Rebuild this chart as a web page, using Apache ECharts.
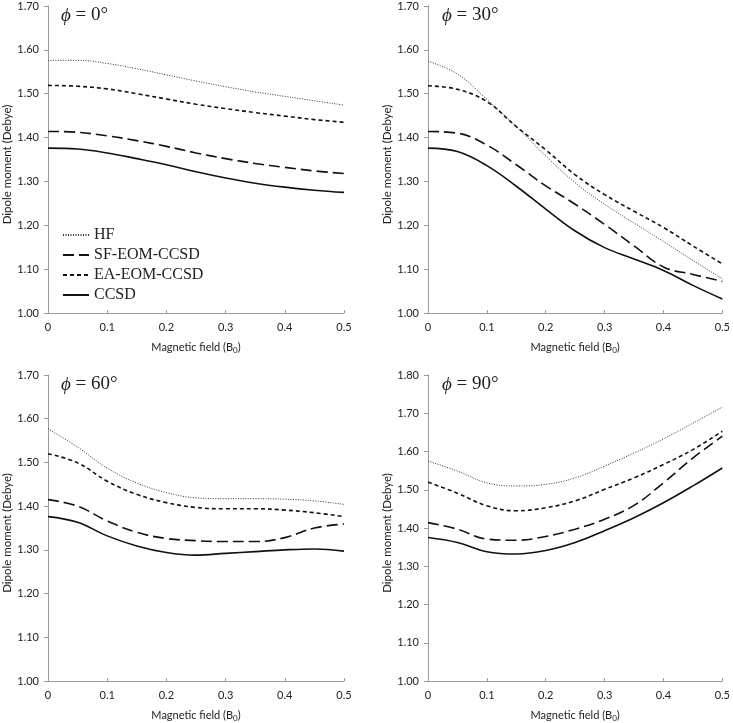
<!DOCTYPE html>
<html>
<head>
<meta charset="utf-8">
<script src="https://cdn.jsdelivr.net/npm/echarts@6/dist/echarts.min.js"></script>
<style>
  html, body { margin: 0; padding: 0; background: #fff; }
  #chart { width: 733px; height: 723px; }
</style>
</head>
<body>
<div id="chart"></div>
<script>
// magnetic field values (B0)
const field = [0, 0.05, 0.1, 0.15, 0.2, 0.25, 0.3, 0.35, 0.4, 0.45, 0.5]

// phi = 0
const hf0 = [1.576, 1.576, 1.569, 1.557, 1.543, 1.529, 1.516, 1.504, 1.494, 1.484, 1.474]
const sf0 = [1.414, 1.412, 1.404, 1.393, 1.380, 1.365, 1.352, 1.341, 1.332, 1.324, 1.318]
const ea0 = [1.519, 1.517, 1.511, 1.500, 1.488, 1.476, 1.466, 1.457, 1.449, 1.441, 1.435]
const cc0 = [1.376, 1.374, 1.365, 1.352, 1.338, 1.322, 1.308, 1.296, 1.287, 1.280, 1.275]

// phi = 30
const hf30 = [1.574, 1.545, 1.487, 1.425, 1.358, 1.297, 1.248, 1.205, 1.163, 1.120, 1.078]
const sf30 = [1.414, 1.410, 1.383, 1.338, 1.290, 1.248, 1.202, 1.153, 1.105, 1.088, 1.072]
const ea30 = [1.518, 1.510, 1.482, 1.425, 1.372, 1.315, 1.270, 1.232, 1.195, 1.153, 1.112]
const cc30 = [1.376, 1.368, 1.336, 1.289, 1.237, 1.187, 1.149, 1.123, 1.097, 1.063, 1.032]

// phi = 60
const hf60 = [1.577, 1.535, 1.487, 1.453, 1.431, 1.419, 1.417, 1.417, 1.416, 1.412, 1.404]
const sf60 = [1.415, 1.400, 1.366, 1.340, 1.326, 1.321, 1.319, 1.319, 1.328, 1.350, 1.359]
const ea60 = [1.520, 1.499, 1.457, 1.427, 1.408, 1.397, 1.394, 1.394, 1.391, 1.385, 1.376]
const cc60 = [1.376, 1.363, 1.332, 1.309, 1.294, 1.288, 1.292, 1.296, 1.300, 1.302, 1.297]

// phi = 90
const hf90 = [1.575, 1.549, 1.518, 1.510, 1.514, 1.531, 1.562, 1.596, 1.633, 1.674, 1.716]
const sf90 = [1.414, 1.397, 1.371, 1.368, 1.378, 1.397, 1.423, 1.459, 1.518, 1.583, 1.640]
const ea90 = [1.520, 1.491, 1.458, 1.445, 1.453, 1.471, 1.501, 1.531, 1.566, 1.605, 1.653]
const cc90 = [1.375, 1.362, 1.338, 1.332, 1.341, 1.362, 1.393, 1.427, 1.466, 1.510, 1.557]

const panels = [
    { phi: '0°', yMax: 1.7, data: [hf0, sf0, ea0, cc0] },
    { phi: '30°', yMax: 1.7, data: [hf30, sf30, ea30, cc30] },
    { phi: '60°', yMax: 1.7, data: [hf60, sf60, ea60, cc60] },
    { phi: '90°', yMax: 1.8, data: [hf90, sf90, ea90, cc90] }
]

const methods = ['HF', 'SF-EOM-CCSD', 'EA-EOM-CCSD', 'CCSD']
// line style per method
const styles = [
    { color: '#333', width: 1, type: [1, 1.5] },
    { color: '#111', width: 1.6, type: [11, 5] },
    { color: '#111', width: 1.6, type: [4, 3] },
    { color: '#111', width: 1.6, type: 'solid' }
]

// grid boxes (left, top)
const boxes = [[47, 6], [428, 6], [47, 375], [428, 375]]

const labelFont = 'Lato, "Open Sans", sans-serif'
const serif = '"Liberation Serif", "DejaVu Serif", serif'

const mychart = echarts.init(document.getElementById('chart'))

const grid = boxes.map(b => ({ left: b[0], top: b[1], width: 297, height: 307 }))

const xAxis = panels.map((p, i) => ({
    type: 'value',
    gridIndex: i,
    min: 0,
    max: 0.5,
    interval: 0.1,
    splitLine: { show: false },
    axisLine: { lineStyle: { color: '#9a9a9a', width: 1 } },
    axisTick: { inside: true, length: 3, lineStyle: { color: '#9a9a9a' } },
    axisLabel: { color: '#222', fontSize: 11, fontFamily: labelFont, margin: 9 },
    name: 'Magnetic field (B{sub|0})',
    nameLocation: 'middle',
    nameGap: 27,
    nameTextStyle: {
        color: '#222', fontSize: 11, fontFamily: labelFont,
        rich: { sub: { fontSize: 8, verticalAlign: 'bottom', padding: [6, 0, 0, 0], fontFamily: labelFont, color: '#222' } }
    }
}))

const yAxis = panels.map((p, i) => ({
    type: 'value',
    gridIndex: i,
    min: 1,
    max: p.yMax,
    interval: 0.1,
    splitLine: { show: false },
    axisLine: { show: true, lineStyle: { color: '#9a9a9a', width: 1 } },
    axisTick: { show: true, length: 4, lineStyle: { color: '#9a9a9a' } },
    axisLabel: { color: '#222', fontSize: 11, fontFamily: labelFont, margin: 9, formatter: v => v.toFixed(2) },
    name: 'Dipole moment (Debye)',
    nameLocation: 'middle',
    nameGap: 35,
    // 右侧padding让标题稍微下移
    nameTextStyle: { color: '#222', fontSize: 11.5, fontFamily: labelFont, padding: [0, 10, 0, 0] }
}))

const series = []
panels.forEach((p, i) => {
    p.data.forEach((vals, k) => {
        series.push({
            name: methods[k],
            type: 'line',
            xAxisIndex: i,
            yAxisIndex: i,
            data: field.map((x, j) => [x, vals[j]]),
            smooth: 0.4,
            symbol: 'none',
            lineStyle: styles[k],
            itemStyle: { color: styles[k].color },
            z: 4 - k
        })
    })
})

const title = panels.map((p, i) => ({
    text: '{i|ϕ} = ' + p.phi,
    left: boxes[i][0] + 9,
    top: boxes[i][1] - 5,
    textStyle: {
        fontFamily: serif, fontSize: 19, fontWeight: 'normal', color: '#222',
        rich: { i: { fontFamily: serif, fontSize: 19, fontStyle: 'italic', color: '#222' } }
    }
}))

mychart.setOption({
    animation: false,
    title: title,
    grid: grid,
    xAxis: xAxis,
    yAxis: yAxis,
    legend: {
        data: methods,
        orient: 'vertical',
        left: 57,
        top: 222,
        itemWidth: 26,
        itemHeight: 10,
        itemGap: 4,
        itemStyle: { opacity: 0 },
        textStyle: { fontFamily: serif, fontSize: 16, color: '#222' }
    },
    series: series
})
</script>
</body>
</html>
